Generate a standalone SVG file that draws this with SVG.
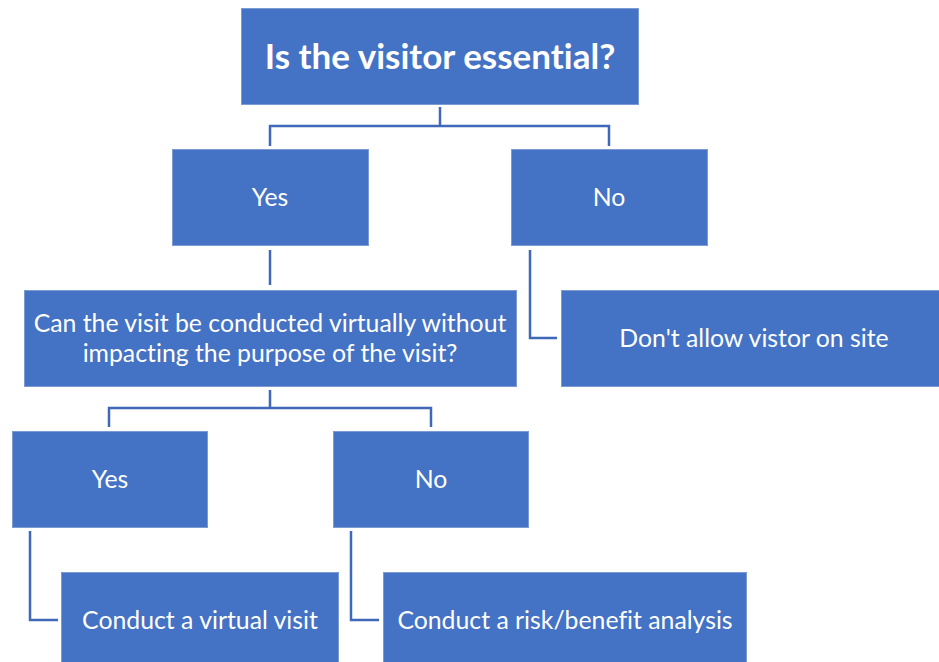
<svg xmlns="http://www.w3.org/2000/svg" width="939" height="662" viewBox="0 0 939 662">
<style>
.box{fill:#4472C4;stroke:#7C9BD3;stroke-width:1}
.t{fill:#fff;font-family:Lato,"Noto Sans","Liberation Sans",sans-serif;font-size:24.8px;text-anchor:middle;dominant-baseline:central;font-variant-ligatures:none}
.tb{font-weight:bold;font-size:35px}
.c{fill:none;stroke:#4068B8;stroke-width:2.5}
</style>
<rect width="939" height="662" fill="#fff"/>
<g id="connectors">
<path class="c" d="M440 107V126M270 146V126H609V146"/>
<path class="c" d="M270 250V285"/>
<path class="c" d="M530 250V338H557"/>
<path class="c" d="M270 390V408M109 427V408H431V427"/>
<path class="c" d="M30 531V620H58"/>
<path class="c" d="M351 531V620H379"/>
</g>
<g id="n-essential"><rect class="box" x="241.5" y="8.5" width="397" height="96"/><text class="t tb" x="440" y="55">Is the visitor essential?</text></g>
<g id="n-yes1"><rect class="box" x="172.5" y="149.5" width="196" height="96"/><text class="t" x="270" y="196">Yes</text></g>
<g id="n-no1"><rect class="box" x="511.5" y="149.5" width="196" height="96"/><text class="t" x="609" y="196">No</text></g>
<g id="n-question"><rect class="box" x="24.5" y="290.5" width="492" height="96"/><text class="t" x="270" y="322">Can the visit be conducted virtually without</text><text class="t" x="270" y="352">impacting the purpose of the visit?</text></g>
<g id="n-dontallow"><rect class="box" x="561.5" y="290.5" width="380" height="96"/><text class="t" x="754" y="337">Don't allow vistor on site</text></g>
<g id="n-yes2"><rect class="box" x="12.5" y="431.5" width="195" height="96"/><text class="t" x="110" y="478">Yes</text></g>
<g id="n-no2"><rect class="box" x="333.5" y="431.5" width="195" height="96"/><text class="t" x="431" y="478">No</text></g>
<g id="n-virtual"><rect class="box" x="61.5" y="572.5" width="277" height="96"/><text class="t" x="200" y="619">Conduct a virtual visit</text></g>
<g id="n-risk"><rect class="box" x="383.5" y="572.5" width="363" height="96"/><text class="t" x="565" y="619">Conduct a risk/benefit analysis</text></g>
</svg>
